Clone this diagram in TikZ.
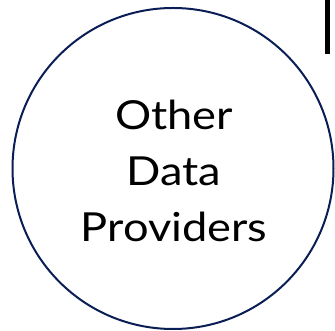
\documentclass[tikz,border=0pt]{standalone}
\usepackage{fontspec}
\setmainfont{Lato}
\definecolor{navy}{RGB}{10,30,85}
\begin{document}
\begin{tikzpicture}[x=1pt,y=1pt,
  ring/.style={circle,draw=navy,line width=2pt,minimum size=321pt,inner sep=0pt},
  label/.style={align=center,font=\fontsize{40}{56}\selectfont,inner sep=0pt,xscale=1.13}]
\useasboundingbox (0,0) rectangle (335,331);
\node[ring] (c) at (173,162.5) {};
\node[label,anchor=base] (t) at (174,89) {Other\\Data\\Providers};
\fill[black] (325,277) rectangle (329.5,331);
\end{tikzpicture}
\end{document}
